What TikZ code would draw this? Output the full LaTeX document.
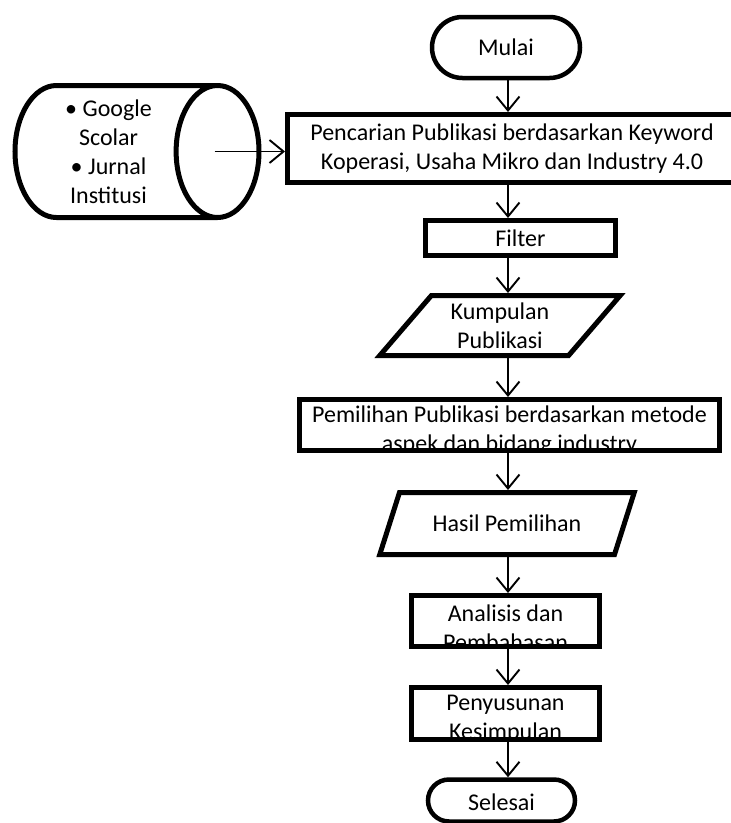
\documentclass[tikz,border=0pt]{standalone}
\usepackage{fontspec}
\setmainfont{Carlito}
\usetikzlibrary{positioning,calc,arrows.meta,shapes.geometric,shapes.misc}
\tikzset{flowfont/.style={font=\fontsize{24}{29}\selectfont}}
\tikzset{term/.style={rounded rectangle, draw, line width=4.5pt, inner sep=0pt, flowfont}}
\tikzset{proc/.style={rectangle, draw, line width=5pt, inner sep=0pt, align=center, flowfont}}
\tikzset{cutbox/.style 2 args={proc, path picture={\node[align=center, flowfont] at ([yshift=#1]path picture bounding box.center) {#2};}}}
\tikzset{io/.style={trapezium, trapezium left angle=51, trapezium right angle=129, trapezium stretches=true, draw, line width=5pt, inner sep=0pt, align=center, flowfont}}
\tikzset{arr/.style={draw, line width=1.9pt, -{Straight Barb[length=14pt,width=23pt]}}}
\begin{document}
\begin{tikzpicture}[x=1pt, y=-1pt]
			\clip (0,0) rectangle (731,823);
			\node[term, minimum width=148pt, minimum height=61pt] (mulai) at (506,47.5) {Mulai};
			\node[proc, minimum width=449pt, minimum height=68pt] (cari) at (512,148.5) {Pencarian Publikasi berdasarkan Keyword\\Koperasi, Usaha Mikro dan Industry 4.0};
			\node[cylinder, draw, line width=5pt, shape aspect=0.75, minimum width=132pt, minimum height=244pt,
				align=center, flowfont, anchor=shape center] (sumber) at (137,151.5) {\textbullet\ Google\\Scolar\\\textbullet\ Jurnal\\Institusi};
			\node[proc, minimum width=190pt, minimum height=35pt] (filter) at (520.5,238) {Filter};
			\node[io, minimum width=241pt, minimum height=60pt] (kumpul) at (500,325.5) {Kumpulan\\Publikasi};
			\node[cutbox={-6pt}{Pemilihan Publikasi berdasarkan metode\\aspek dan bidang industry}, minimum width=420pt, minimum height=51pt] (pilih) at (509.5,425) {};
			\node[io, minimum width=255pt, minimum height=62pt] (hasil) at (507,523.5) {Hasil Pemilihan};
			\node[cutbox={-6.5pt}{Analisis dan\\Pembahasan}, minimum width=188pt, minimum height=51pt] (analisis) at (505.5,621) {};
			\node[cutbox={-5.5pt}{Penyusunan\\Kesimpulan}, minimum width=188pt, minimum height=52pt] (susun) at (505.5,713.5) {};
			\node[term, minimum width=147pt, minimum height=42pt, text height=20pt] (selesai) at (501.5,800.5) {Selesai};
%
			\coordinate (axis) at (508,0);
			\coordinate (src) at ([xshift=-47pt]sumber.top);
			\draw[arr] (src) -- (src -| cari.west);
			\foreach \a/\b in {mulai/cari, cari/filter, filter/kumpul, kumpul/pilih, pilih/hasil, hasil/analisis, analisis/susun, susun/selesai}
				\draw[arr] (axis |- \a.south) -- (axis |- \b.north);
\end{tikzpicture}
\end{document}
